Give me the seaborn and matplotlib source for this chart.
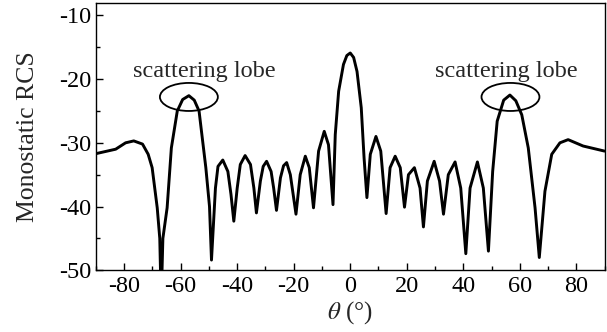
import numpy as np
import pandas as pd
import matplotlib
matplotlib.use('Agg')
import matplotlib.pyplot as plt
import seaborn as sns
from matplotlib.patches import Ellipse
from matplotlib.ticker import MultipleLocator

# Monostatic RCS vs angle
theta = [-90, -83, -79.5, -76.6, -73.5, -71.5, -70.1, -68.3, -67.4, -66.9, -66.3, -64.8, -63.3,
         -61.2, -59.3, -57.1, -55.2, -53.5, -51.1, -49.8, -49.1,
         -47.7, -46.8, -45.1, -43.3, -42.2, -41.2,
         -40.0, -38.9, -37.2, -35.3, -34.1, -33.2,
         -31.8, -30.8, -29.6, -28.0, -27.1, -26.1,
         -24.7, -23.6, -22.5, -21.2, -19.2,
         -17.7, -15.9, -14.5, -13.0,
         -11.2, -9.2, -7.7, -6.1,
         -5.3, -4.1, -2.4, -1.2, 0, 1.2, 2.4, 3.9, 4.9, 5.9,
         7.1, 9.1, 10.8, 12.7,
         14.1, 15.9, 17.7, 19.2,
         20.6, 22.7, 24.7, 25.9,
         27.3, 29.7, 31.6, 33.0,
         34.7, 37.1, 39.1, 40.9,
         42.4, 45.0, 47.1, 48.9,
         50.4, 52.0, 54.3, 56.5, 58.6, 60.7, 63.0, 65.4, 66.9,
         68.9, 71.3, 74.2, 77.1, 82.4, 90]
rcs = [-31.7, -31.0, -30.0, -29.7, -30.2, -31.8, -33.9, -40.2, -45, -55, -45, -40.2, -30.8,
       -25.0, -23.2, -22.6, -23.3, -25.0, -33.9, -40.0, -48.4,
       -37.1, -33.7, -32.7, -34.5, -38.1, -42.3,
       -37.1, -33.4, -32.0, -33.4, -37.1, -41.0,
       -36.0, -33.7, -32.9, -34.5, -37.1, -40.6,
       -35.5, -33.6, -33.1, -35.0, -41.2,
       -35.0, -32.1, -33.9, -40.2,
       -31.3, -28.2, -30.3, -39.7,
       -28.7, -21.9, -17.7, -16.3, -15.9, -16.6, -18.8, -24.5, -32.4, -38.6,
       -31.8, -29.0, -31.3, -41.1,
       -33.9, -32.1, -33.9, -40.1,
       -35.0, -33.9, -37.1, -43.2,
       -36.0, -32.9, -36.0, -41.2,
       -35.0, -33.0, -37.1, -47.4,
       -37.1, -33.0, -37.1, -47.0,
       -34.5, -26.6, -23.3, -22.5, -23.4, -25.6, -30.8, -40.2, -48.0,
       -37.6, -31.8, -30.0, -29.5, -30.5, -31.3]

lobe_centers = [-57.1, 56.7]
lobe_level = -22.8
label_x = [-51.7, 55.2]
label_y = -18.8

df = pd.DataFrame({'theta': theta, 'rcs': rcs})

sns.set_style('ticks')
plt.rcParams['font.family'] = ['Liberation Serif', 'DejaVu Serif']
plt.rcParams['mathtext.fontset'] = 'stix'
plt.rcParams['axes.unicode_minus'] = False

fig = plt.figure(figsize=(6.07, 3.32), dpi=100)
ax = fig.add_axes([0.158, 0.186, 0.838, 0.806])

sns.lineplot(data=df, x='theta', y='rcs', color='black', linewidth=2.1, estimator=None, sort=False, ax=ax)

for cx, tx in zip(lobe_centers, label_x):
    ax.add_patch(Ellipse((cx, lobe_level), 20.5, 4.4, fill=False, edgecolor='black', linewidth=1.3))
    ax.text(tx, label_y, 'scattering lobe', ha='center', va='center', fontsize=17.5)

ax.set_xlim(-90, 90)
ax.set_ylim(-50, -8)
ax.xaxis.set_major_locator(MultipleLocator(20))
ax.xaxis.set_minor_locator(MultipleLocator(10))
ax.yaxis.set_major_locator(MultipleLocator(10))
ax.yaxis.set_minor_locator(MultipleLocator(5))
ax.set_yticks([-50, -40, -30, -20, -10])
ax.tick_params(which='both', direction='in', top=False, right=False, labelsize=17.5, colors='black')
ax.tick_params(which='major', length=5, width=1)
ax.tick_params(axis='x', which='major', pad=4)
ax.tick_params(axis='y', which='major', pad=3)
ax.tick_params(which='minor', length=3, width=1)
for s in ax.spines.values():
    s.set_visible(True)
    s.set_color('black')
    s.set_linewidth(1)

ax.set_xlabel(r'$\theta$ (°)', fontsize=18, labelpad=2)
ax.set_ylabel('Monostatic RCS', fontsize=18.5, labelpad=15)

fig.savefig('out.png', dpi=100)
